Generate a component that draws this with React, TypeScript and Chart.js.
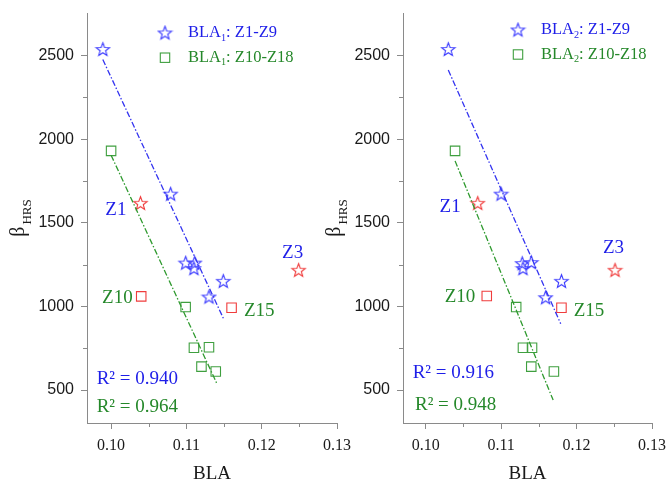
import React, { useEffect, useRef } from 'react';
import { Chart, registerables } from 'chart.js';

Chart.register(...registerables);

// ---------- data ----------
// Panel 1: BLA1
const bla1StarX = [0.0989, 0.1079, 0.1099, 0.1111, 0.111, 0.1149, 0.113];
const bla1StarY = [2536, 1671, 1259, 1259, 1226, 1150, 1056];
const bla1OutStarX = [0.1039, 0.1249]; // Z1, Z3
const bla1OutStarY = [1616, 1216];
const bla1SqX = [0.1, 0.1099, 0.111, 0.113, 0.112, 0.1139];
const bla1SqY = [1930, 996, 753, 756, 640, 611];
const bla1OutSqX = [0.104, 0.116]; // Z10, Z15
const bla1OutSqY = [1060, 992];
const bla1FitStarX = [0.0989, 0.115];
const bla1FitStarY = [2476, 920];
const bla1FitSqX = [0.1, 0.114];
const bla1FitSqY = [1904, 543];
const bla1R2 = ['0.940', '0.964'];

// Panel 2: BLA2
const bla2StarX = [0.103, 0.11, 0.1128, 0.114, 0.1129, 0.118, 0.1159];
const bla2StarY = [2536, 1671, 1256, 1262, 1226, 1150, 1052];
const bla2OutStarX = [0.1069, 0.1251]; // Z1, Z3
const bla2OutStarY = [1616, 1216];
const bla2SqX = [0.1039, 0.112, 0.1129, 0.1141, 0.114, 0.117];
const bla2SqY = [1930, 996, 753, 753, 640, 611];
const bla2OutSqX = [0.1081, 0.118]; // Z10, Z15
const bla2OutSqY = [1062, 992];
const bla2FitStarX = [0.103, 0.1179];
const bla2FitStarY = [2413, 896];
const bla2FitSqX = [0.1039, 0.1169];
const bla2FitSqY = [1870, 440];
const bla2R2 = ['0.916', '0.948'];

const outStarLabels = ['Z1', 'Z3'];
const outSqLabels = ['Z10', 'Z15'];

const xMajorTicks = [0.1, 0.11, 0.12, 0.13];
const xMinorTicks = [0.105, 0.115, 0.125];
const yMajorTicks = [500, 1000, 1500, 2000, 2500];
const yMinorTicks = [750, 1250, 1750, 2250];

// ---------- styles ----------
const SERIF = '"Liberation Serif", "Times New Roman", serif';
const SANS = '"Liberation Sans", Arial, sans-serif';
const AXIS = '#8a8a8a';
const TXT = '#1a1a1a';
const BLUE_TXT = '#1e1ee8';
const GREEN_TXT = '#25882a';
const BLUE_MK = '#3c3cff';
const GREEN_MK = '#3f9f3f';
const RED_MK = '#f03c3c';
const BLUE_LN = '#3434f0';
const GREEN_LN = '#2f9a2f';

const zip = (xs: number[], ys: number[]) => xs.map((x, i) => ({ x, y: ys[i] }));

function makeStar(color: string): HTMLCanvasElement {
  const c = document.createElement('canvas');
  c.width = 17;
  c.height = 17;
  const g = c.getContext('2d')!;
  const cx = 8.5, cy = 8.8, ro = 7, ri = 2.9;
  g.beginPath();
  for (let i = 0; i < 10; i++) {
    const r = i % 2 === 0 ? ro : ri;
    const a = -Math.PI / 2 + (i * Math.PI) / 5;
    const px = cx + r * Math.cos(a);
    const py = cy + r * Math.sin(a);
    if (i === 0) g.moveTo(px, py);
    else g.lineTo(px, py);
  }
  g.closePath();
  g.strokeStyle = color;
  g.lineWidth = 1.1;
  g.lineJoin = 'miter';
  g.stroke();
  return c;
}

type LabelCfg = { dx: number; dy: number; align: CanvasTextAlign };

interface PanelCfg {
  left: number;
  width: number;
  yWidth: number;
  padRight: number;
  xMin: number;
  sub: string;
  starX: number[]; starY: number[];
  outStarX: number[]; outStarY: number[];
  sqX: number[]; sqY: number[];
  outSqX: number[]; outSqY: number[];
  fitStarX: number[]; fitStarY: number[];
  fitSqX: number[]; fitSqY: number[];
  r2: string[];
  starLabelPos: LabelCfg[];
  sqLabelPos: LabelCfg[];
  legend: { mx: number; tx: number; y1: number; y2: number };
  r2Pos: { x1: number; y1: number; x2: number; y2: number };
}

const panels: PanelCfg[] = [
  {
    left: 0, width: 360, yWidth: 87, padRight: 23, xMin: 0.0968, sub: '1',
    starX: bla1StarX, starY: bla1StarY, outStarX: bla1OutStarX, outStarY: bla1OutStarY,
    sqX: bla1SqX, sqY: bla1SqY, outSqX: bla1OutSqX, outSqY: bla1OutSqY,
    fitStarX: bla1FitStarX, fitStarY: bla1FitStarY, fitSqX: bla1FitSqX, fitSqY: bla1FitSqY,
    r2: bla1R2,
    starLabelPos: [{ dx: -14, dy: 7, align: 'right' }, { dx: -6, dy: -17, align: 'center' }],
    sqLabelPos: [{ dx: -8.5, dy: 1.5, align: 'right' }, { dx: 12.3, dy: 3.2, align: 'left' }],
    legend: { mx: 78, tx: 101, y1: 33, y2: 57.7 },
    r2Pos: { x1: 9.7, y1: 379, x2: 9.7, y2: 407 },
  },
  {
    left: 310, width: 358, yWidth: 93, padRight: 16, xMin: 0.097, sub: '2',
    starX: bla2StarX, starY: bla2StarY, outStarX: bla2OutStarX, outStarY: bla2OutStarY,
    sqX: bla2SqX, sqY: bla2SqY, outSqX: bla2OutSqX, outSqY: bla2OutSqY,
    fitStarX: bla2FitStarX, fitStarY: bla2FitStarY, fitSqX: bla2FitSqX, fitSqY: bla2FitSqY,
    r2: bla2R2,
    starLabelPos: [{ dx: -17, dy: 4, align: 'right' }, { dx: -1.5, dy: -22, align: 'center' }],
    sqLabelPos: [{ dx: -11.4, dy: 1, align: 'right' }, { dx: 12.3, dy: 3.2, align: 'left' }],
    legend: { mx: 115, tx: 138, y1: 30, y2: 54.5 },
    r2Pos: { x1: 9.7, y1: 373, x2: 12, y2: 405 },
  },
];

function drawSubText(
  ctx: CanvasRenderingContext2D, x: number, y: number,
  main: string, sub: string, rest: string, size: number, color: string
) {
  ctx.fillStyle = color;
  ctx.textAlign = 'left';
  ctx.textBaseline = 'middle';
  ctx.font = `${size}px ${SERIF}`;
  ctx.fillText(main, x, y);
  let cx = x + ctx.measureText(main).width;
  ctx.font = `${size * 0.62}px ${SERIF}`;
  ctx.fillText(sub, cx, y + size * 0.3);
  cx += ctx.measureText(sub).width;
  ctx.font = `${size}px ${SERIF}`;
  ctx.fillText(rest, cx, y);
}

const overlayPlugin = {
  id: 'overlay',
  afterDraw(chart: any, _args: any, opts: any) {
    const p: PanelCfg = opts.panel;
    if (!p) return;
    const { ctx, chartArea: ca } = chart;
    const xs = chart.scales.x;
    const ys = chart.scales.y;
    ctx.save();

    // minor ticks
    ctx.strokeStyle = AXIS;
    ctx.lineWidth = 1;
    for (const v of xMinorTicks) {
      const px = Math.round(xs.getPixelForValue(v)) + 0.5;
      ctx.beginPath();
      ctx.moveTo(px, ca.bottom);
      ctx.lineTo(px, ca.bottom + 4);
      ctx.stroke();
    }
    for (const v of yMinorTicks) {
      const py = Math.round(ys.getPixelForValue(v)) + 0.5;
      ctx.beginPath();
      ctx.moveTo(ca.left, py);
      ctx.lineTo(ca.left - 4, py);
      ctx.stroke();
    }

    // y title β_HRS (rotated)
    ctx.save();
    ctx.translate(ca.left - 63, (ca.top + ca.bottom) / 2);
    ctx.rotate(-Math.PI / 2);
    ctx.fillStyle = TXT;
    ctx.textBaseline = 'alphabetic';
    ctx.textAlign = 'left';
    ctx.font = `20px ${SERIF}`;
    const wB = ctx.measureText('β').width;
    ctx.font = `13px ${SERIF}`;
    const wS = ctx.measureText('HRS').width;
    const start = -(wB + 2 + wS) / 2;
    ctx.font = `20px ${SERIF}`;
    ctx.fillText('β', start, 0);
    ctx.font = `13px ${SERIF}`;
    ctx.fillText('HRS', start + wB + 2, 7);
    ctx.restore();

    // legend
    const star: HTMLCanvasElement = opts.starImg;
    const L = p.legend;
    ctx.drawImage(star, ca.left + L.mx - star.width / 2, L.y1 - star.height / 2);
    ctx.strokeStyle = GREEN_MK;
    ctx.lineWidth = 1.1;
    ctx.strokeRect(ca.left + L.mx - 4.7, L.y2 - 4.7, 9.4, 9.4);
    drawSubText(ctx, ca.left + L.tx, L.y1, 'BLA', p.sub, ': Z1-Z9', 16.5, BLUE_TXT);
    drawSubText(ctx, ca.left + L.tx, L.y2, 'BLA', p.sub, ': Z10-Z18', 16.5, GREEN_TXT);

    // outlier labels
    ctx.font = `19px ${SERIF}`;
    ctx.textBaseline = 'middle';
    outStarLabels.forEach((t, i) => {
      const lp = p.starLabelPos[i];
      ctx.fillStyle = BLUE_TXT;
      ctx.textAlign = lp.align;
      ctx.fillText(t, xs.getPixelForValue(p.outStarX[i]) + lp.dx, ys.getPixelForValue(p.outStarY[i]) + lp.dy);
    });
    outSqLabels.forEach((t, i) => {
      const lp = p.sqLabelPos[i];
      ctx.fillStyle = GREEN_TXT;
      ctx.textAlign = lp.align;
      ctx.fillText(t, xs.getPixelForValue(p.outSqX[i]) + lp.dx, ys.getPixelForValue(p.outSqY[i]) + lp.dy);
    });

    // R² texts
    ctx.textAlign = 'left';
    ctx.fillStyle = BLUE_TXT;
    ctx.fillText(`R² = ${p.r2[0]}`, ca.left + p.r2Pos.x1, p.r2Pos.y1);
    ctx.fillStyle = GREEN_TXT;
    ctx.fillText(`R² = ${p.r2[1]}`, ca.left + p.r2Pos.x2, p.r2Pos.y2);

    ctx.restore();
  },
};

function Panel({ p }: { p: PanelCfg }) {
  const ref = useRef<HTMLCanvasElement>(null);
  useEffect(() => {
    if (!ref.current) return;
    const starBlue = makeStar(BLUE_MK);
    const starRed = makeStar(RED_MK);
    const sqStyle = { pointStyle: 'rect', pointRadius: 6.7, borderWidth: 1.1, backgroundColor: 'rgba(0,0,0,0)' };
    const chart = new Chart(ref.current, {
      type: 'scatter',
      data: {
        datasets: [
          {
            data: zip(p.fitStarX, p.fitStarY), showLine: true, borderColor: BLUE_LN, borderWidth: 1.3,
            borderDash: [6, 2, 1.5, 2], pointRadius: 0, fill: false,
          },
          {
            data: zip(p.fitSqX, p.fitSqY), showLine: true, borderColor: GREEN_LN, borderWidth: 1.3,
            borderDash: [6, 2, 1.5, 2], pointRadius: 0, fill: false,
          },
          { data: zip(p.starX, p.starY), pointStyle: starBlue, pointRadius: 7, borderColor: BLUE_MK },
          { data: zip(p.outStarX, p.outStarY), pointStyle: starRed, pointRadius: 7, borderColor: RED_MK },
          { data: zip(p.sqX, p.sqY), ...sqStyle, borderColor: GREEN_MK },
          { data: zip(p.outSqX, p.outSqY), ...sqStyle, borderColor: RED_MK },
        ] as any,
      },
      options: {
        animation: false,
        responsive: false,
        devicePixelRatio: 1,
        events: [],
        layout: { padding: { left: 0, top: 13, right: p.padRight, bottom: 0 } },
        plugins: {
          legend: { display: false },
          tooltip: { enabled: false },
          overlay: { panel: p, starImg: starBlue },
        } as any,
        scales: {
          x: {
            type: 'linear',
            position: 'bottom',
            min: p.xMin,
            max: 0.13,
            afterBuildTicks: (s: any) => { s.ticks = xMajorTicks.map((v) => ({ value: v })); },
            afterFit: (s: any) => { s.height = 61; s.paddingLeft = 0; s.paddingRight = 0; },
            ticks: {
              autoSkip: false, maxRotation: 0, padding: 7, color: TXT,
              font: { family: SERIF, size: 16 },
              callback: (v: any) => Number(v).toFixed(2),
            },
            grid: { drawOnChartArea: false, drawTicks: true, tickLength: 6, color: AXIS, lineWidth: 1 },
            border: { display: true, color: AXIS, width: 1 },
            title: {
              display: true, text: 'BLA', color: TXT,
              font: { family: SERIF, size: 19, lineHeight: 1 }, padding: 0,
            },
          },
          y: {
            type: 'linear',
            min: 303,
            max: 2754,
            afterBuildTicks: (s: any) => { s.ticks = yMajorTicks.map((v) => ({ value: v })); },
            afterFit: (s: any) => { s.width = p.yWidth; s.paddingTop = 0; s.paddingBottom = 0; },
            ticks: {
              autoSkip: false, padding: 7, color: TXT,
              font: { family: SANS, size: 16 },
              callback: (v: any) => String(v),
            },
            grid: { drawOnChartArea: false, drawTicks: true, tickLength: 6, color: AXIS, lineWidth: 1 },
            border: { display: true, color: AXIS, width: 1 },
          },
        },
      } as any,
      plugins: [overlayPlugin as any],
    });
    return () => chart.destroy();
  }, [p]);
  return (
    <canvas
      ref={ref}
      width={p.width}
      height={484}
      style={{ position: 'absolute', left: p.left, top: 0, width: p.width, height: 484 }}
    />
  );
}

export default function App() {
  return (
    <div style={{ position: 'fixed', left: 0, top: 0, width: 668, height: 484, background: '#fff', overflow: 'hidden' }}>
      {panels.map((p, i) => (
        <Panel key={i} p={p} />
      ))}
    </div>
  );
}
